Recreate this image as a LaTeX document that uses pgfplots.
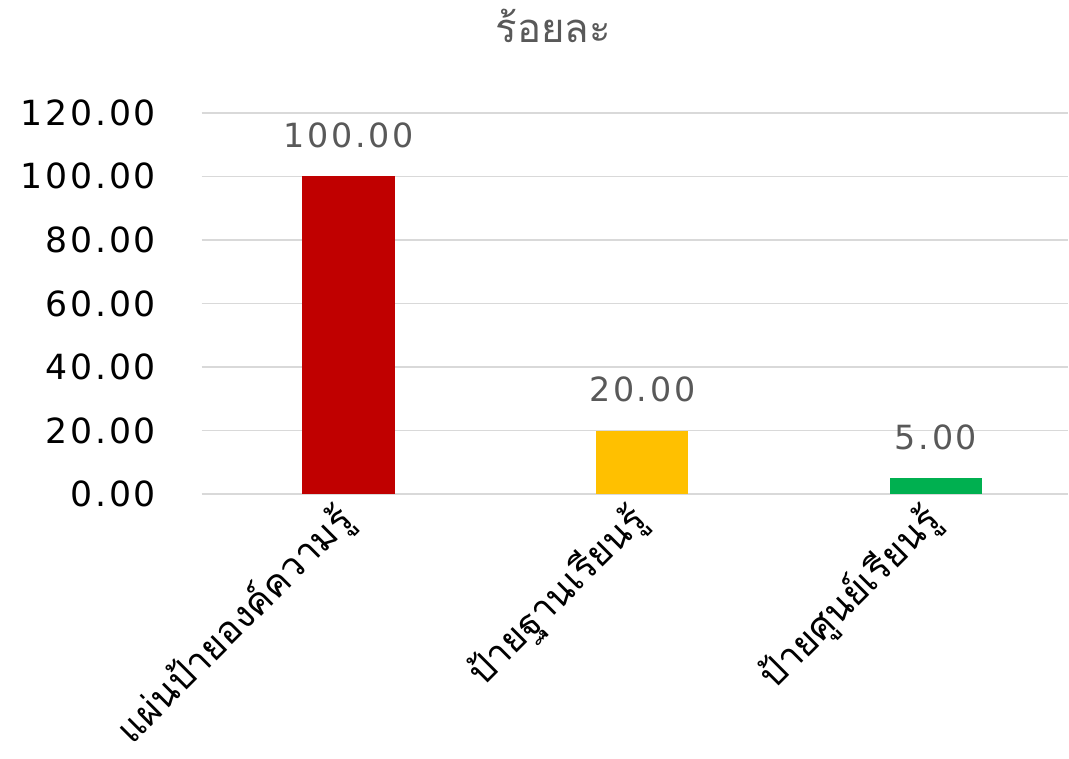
\documentclass[border=0pt]{standalone}
\usepackage{fontspec}
\setmainfont[Script=Thai]{Loma}
\newfontfamily\numfont[LetterSpace=8]{DejaVu Sans}
\usepackage{pgfplots}
\pgfplotsset{compat=1.18}
\definecolor{barred}{HTML}{C00000}
\definecolor{baryellow}{HTML}{FFC000}
\definecolor{bargreen}{HTML}{00B050}
\definecolor{gridgray}{HTML}{D9D9D9}
\definecolor{labelgray}{HTML}{595959}

\begin{document}
\begin{tikzpicture}
\begin{axis}[
 scale only axis,
 width=650pt,
 height=286pt,
 xmin=-0.5, xmax=2.45,
 ymin=0, ymax=120,
 ytick={0,20,...,120},
 xtick={0,1,2},
 xticklabels={แผ่นป้ายองค์ความรู้, ป้ายฐานเรียนรู้, ป้ายศูนย์เรียนรู้},
 axis line style={draw=none},
 major tick length=0pt,
 ymajorgrids,
 grid style={gridgray, line width=1.2pt},
 yticklabel={\pgfmathprintnumber[fixed,fixed zerofill,precision=2]{\tick}},
 /pgf/number format/assume math mode=true,
 yticklabel style={font=\numfont\fontsize{26}{28}\selectfont, black, inner sep=0pt,
   text width=117pt, align=right, anchor=east, xshift=-34pt},
 xticklabel style={font=\fontsize{28}{30}\selectfont, black, rotate=45, anchor=east, xshift=-8pt, yshift=-10pt},
 title={ร้อยละ},
 title style={font=\fontsize{30}{32}\selectfont, labelgray, inner ysep=7pt, at={(axis description cs:0.406,1)}, anchor=center, yshift=59pt},
 bar width=0.314,
 ybar,
 bar shift=0pt,
 nodes near coords={\pgfmathprintnumber[fixed,fixed zerofill,precision=2,assume math mode=true]{\pgfplotspointmeta}},
 nodes near coords style={font=\numfont\fontsize{25}{27}\selectfont, labelgray, anchor=center, yshift=31pt},
 clip=false,
]
\addplot[fill=barred, draw=none] coordinates {(0,100)};
\addplot[fill=baryellow, draw=none] coordinates {(1,20)};
\addplot[fill=bargreen, draw=none] coordinates {(2,5)};
\end{axis}
\end{tikzpicture}
\end{document}
